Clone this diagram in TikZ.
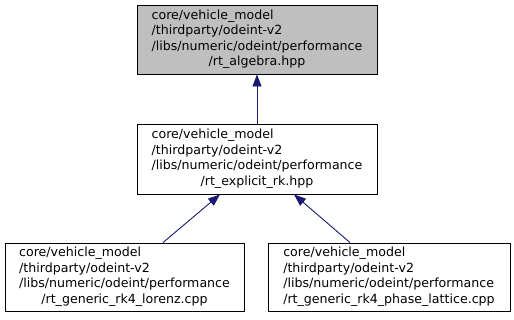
\documentclass[tikz,border=0pt]{standalone}
\usepackage{fontspec}
\setmainfont{DejaVu Sans}
\usetikzlibrary{arrows.meta}
\definecolor{edgeblue}{HTML}{191970}
\definecolor{hilite}{HTML}{BFBFBF}
\tikzset{
  filebox/.style={draw=black, line width=0.9pt, rectangle, inner sep=0pt,
    font=\fontsize{12.6}{15.5}\selectfont},
  dep/.style={draw=edgeblue, line width=0.9pt,
    -{Triangle[length=12pt,width=9pt]}},
}
\newcommand{\fpath}[1]{\begin{tabular}{@{}l@{}}core/vehicle\_model\\/thirdparty/odeint-v2\\/libs/numeric/odeint/performance\\\multicolumn{1}{@{}c@{}}{#1}\end{tabular}}
\renewcommand{\arraystretch}{1.0}
\begin{document}
\begin{tikzpicture}[x=1pt,y=-1pt]
\useasboundingbox (0,0) rectangle (514,319);
\node[filebox, fill=hilite, minimum width=240pt, minimum height=69pt] (alg) at (257,39.5) {\fpath{/rt\_algebra.hpp}};
\node[filebox, minimum width=240pt, minimum height=70pt] (erk) at (257,159) {\fpath{/rt\_explicit\_rk.hpp}};
\node[filebox, minimum width=239pt, minimum height=68pt] (lor) at (124.5,277) {\fpath{/rt\_generic\_rk4\_lorenz.cpp}};
\node[filebox, minimum width=242pt, minimum height=68pt] (lat) at (389,277) {\fpath{/rt\_generic\_rk4\_phase\_lattice.cpp}};
\draw[dep] (erk.north) -- (alg.south);
\draw[dep] (lor.north -| 163,0) -- (erk.south -| 220,0);
\draw[dep] (lat.north -| 350,0) -- (erk.south -| 294,0);
\end{tikzpicture}
\end{document}
